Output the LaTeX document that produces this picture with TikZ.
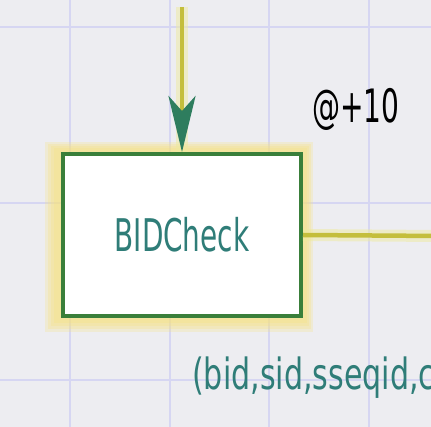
\documentclass[tikz,border=0pt]{standalone}
\usepackage{fontspec}
\setmainfont{DejaVu Sans}
\usepackage{graphicx}
\usetikzlibrary{arrows.meta}
\definecolor{bgc}{HTML}{EDEDF1}
\definecolor{gridc}{HTML}{D6D6F2}
\definecolor{boxgreen}{HTML}{3A7F3A}
\definecolor{glowy}{HTML}{F8E27A}
\definecolor{connc}{HTML}{C4BE3C}
\definecolor{haloc}{HTML}{EEEA9E}
\definecolor{tealc}{HTML}{2F7D78}
\definecolor{arrowc}{HTML}{2E7D5E}

\begin{document}
\begin{tikzpicture}[x=1pt, y=-1pt,
    gridline/.style={line width=2pt, gridc},
    halo/.style={line width=12pt, haloc, opacity=0.5},
    conn/.style={line width=4.5pt, connc},
    taskbox/.style={draw=boxgreen, line width=4pt, fill=white, minimum width=238pt, minimum height=162pt, inner sep=0pt},
    tagtext/.style={text=tealc, inner sep=0pt}]
    % 1. canvas and grid
    \useasboundingbox (0,0) rectangle (431,427);
    \clip (0,0) rectangle (431,427);
    \fill[bgc] (0,0) rectangle (431,427);
    \foreach \gx in {70,170,269,369} \draw[gridline] (\gx,0) -- (\gx,427);
    \foreach \gy in {27,203,380} \draw[gridline] (0,\gy) -- (431,\gy);

    % 2. soft yellow glow behind the task
    \foreach \g in {13,10,7,4}
        \fill[glowy, opacity=0.25] (58-\g,151-\g*0.7) rectangle (305+\g*0.6,319+\g);

    % 3. the task box
    \node[taskbox] (bidcheck) at (182,235) {\color{tealc}\scalebox{0.62}[1]{\fontsize{45}{45}\selectfont BIDCheck}};

    % 4. connectors
    \coordinate (src) at (182,7);
    \coordinate (sink) at (440,236);
    \draw[halo] (src) -- (bidcheck.north);
    \draw[halo] (bidcheck.east) -- (sink);
    \draw[conn, -{Stealth[length=56pt, width=27pt, inset=15pt, color=arrowc, fill=arrowc]}] (src) -- (bidcheck.north);
    \draw[conn] (bidcheck.east) -- (sink);

    % 5. labels
    \node[anchor=base, inner sep=0pt] (delay) at (356,123) {\scalebox{0.61}[1]{\fontsize{46}{46}\selectfont @+10}};
    \node[tagtext, anchor=base west] (params) at (192,389) {\scalebox{0.7}[1]{\fontsize{43}{43}\selectfont (bid,sid,sseqid,c}};
\end{tikzpicture}
\end{document}
